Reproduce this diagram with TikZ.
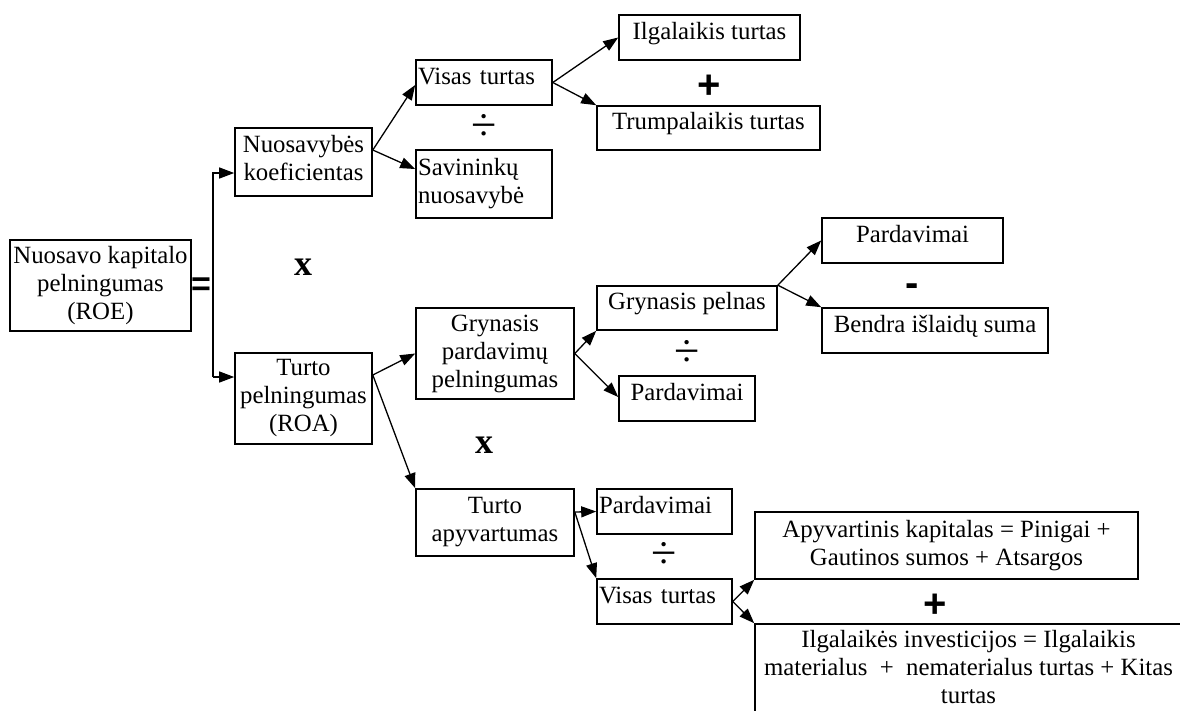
\documentclass[tikz,border=0pt]{standalone}
\usepackage{fontspec}
\setmainfont{Liberation Serif}
\newfontfamily\opsans{Liberation Sans}
\usetikzlibrary{arrows.meta}

\tikzset{
  box/.style={draw, line width=1.6pt, inner sep=0pt, font=\fontsize{24.8}{28}\selectfont},
  one/.style={text height=12pt, text depth=9pt},
  lft/.style={align=left, inner xsep=2pt, text width=#1},
  arr/.style={line width=1.3pt, -{Triangle[length=15pt,width=11pt]}},
  sym/.style={inner sep=0pt},
  times/.style={sym, font=\bfseries\fontsize{36}{36}\selectfont},
  divide/.style={sym, font=\fontsize{46}{46}\selectfont},
  plus/.style={sym, font=\opsans\bfseries\fontsize{40}{40}\selectfont}
}

\begin{document}
\begin{tikzpicture}[x=1pt,y=-1pt]
\clip (0,0) rectangle (1180,710);
\fill[white] (0,0) rectangle (1180,710);

% ROE and its two factors
\node[box, align=center, minimum width=181pt, minimum height=91pt] (roe) at (100.5,285.5) {Nuosavo~kapitalo\\pelningumas\\(ROE)};
\node[box, align=flush center, text width=135pt, text height=17pt, text depth=37pt, minimum width=137pt, minimum height=68pt] (nk) at (303.5,162) {Nuosavybės\\koeficientas};
\node[box, align=center, minimum width=137pt, minimum height=91pt] (tp) at (303.5,398.5) {Turto\\pelningumas\\(ROA)};

% equity multiplier branch
\node[box, one, lft=132pt, minimum width=136pt, minimum height=45pt] (vt1) at (484,82.5) {Visas turtas};
\node[box, lft=132pt, minimum width=136pt, minimum height=68pt] (sn) at (484,184) {Savininkų\\nuosavybė};
\node[box, one, minimum width=181pt, minimum height=45pt] (it) at (709.5,37.5) {Ilgalaikis turtas};
\node[box, one, minimum width=223pt, minimum height=44pt] (tt) at (708.5,128) {Trumpalaikis turtas};

% profit margin branch
\node[box, align=center, minimum width=158pt, minimum height=91pt] (gpp) at (495,353.5) {Grynasis\\pardavimų\\pelningumas};
\node[box, one, minimum width=180pt, minimum height=44pt] (gpl) at (687,308) {Grynasis pelnas};
\node[box, one, minimum width=136pt, minimum height=45pt] (pd1) at (687,398.5) {Pardavimai};
\node[box, one, minimum width=181pt, minimum height=45pt] (pd0) at (912.5,240.5) {Pardavimai};
\node[box, one, minimum width=226pt, minimum height=45pt] (bis) at (935,330.5) {Bendra išlaidų suma};

% asset turnover branch
\node[box, align=center, minimum width=158pt, minimum height=67pt] (ta) at (495,522.5) {Turto\\apyvartumas};
\node[box, one, lft=131pt, minimum width=135pt, minimum height=45pt] (pd2) at (664.5,511.5) {Pardavimai};
\node[box, one, lft=131pt, minimum width=135pt, minimum height=45pt] (vt2) at (664.5,601.5) {Visas turtas};
\node[box, align=center, minimum width=383pt, minimum height=67pt] (ak) at (946.5,545.5) {Apyvartinis kapitalas = Pinigai +\\Gautinos sumos + Atsargos};
\node[box, align=flush center, text width=423pt, text height=17pt, text depth=67pt, minimum width=427pt, minimum height=96pt] (ii) at (968.5,672) {Ilgalaikės investicijos = Ilgalaikis\\materialus~~+~~nematerialus turtas + Kitas\\turtas};

% operators
\node[sym, font=\opsans\bfseries\fontsize{34}{34}\selectfont] (eq) at (201,287) {=};
\node[times] (x1) at (303,267) {x};
\node[times] (x2) at (484,445) {x};
\node[divide] (d1) at (484,127) {÷};
\node[divide] (d2) at (687,353) {÷};
\node[divide] (d3) at (664,555) {÷};
\node[plus] (p1) at (709,87) {+};
\node[plus] (p2) at (935,606) {+};
\node[plus] (m1) at (912,290) {-};

% connectors
\coordinate (jn) at (213,173);
\coordinate (jr) at (213,377);
\draw[arr] (jr) -- (jn) -- (nk.west |- jn);
\draw[arr] (jr) -- (tp.west |- jr);
\draw[arr] ([yshift=12pt]nk.east) -- ([yshift=-2.5pt]vt1.west);
\draw[arr] ([yshift=12pt]nk.east) -- ([yshift=15pt]sn.west);
\draw[arr] (vt1.east) -- (it.west);
\draw[arr] (vt1.east) -- (tt.north west);
\draw[arr] ([yshift=23.5pt]tp.east) -- (gpp.west);
\draw[arr] ([yshift=23.5pt]tp.east) -- (ta.north west);
\draw[arr] (gpp.east) -- (gpl.south west);
\draw[arr] (gpp.east) -- ([yshift=1.5pt]pd1.west);
\draw[arr] (gpl.north east) -- (pd0.west);
\draw[arr] (gpl.north east) -- (bis.north west);
\draw[arr] ([yshift=10.5pt]ta.east) -- (pd2.west);
\draw[arr] ([yshift=10.5pt]ta.east) -- (vt2.north west);
\draw[arr] (vt2.east) -- (ak.south west);
\draw[arr] (vt2.east) -- (ii.north west);
\end{tikzpicture}
\end{document}
